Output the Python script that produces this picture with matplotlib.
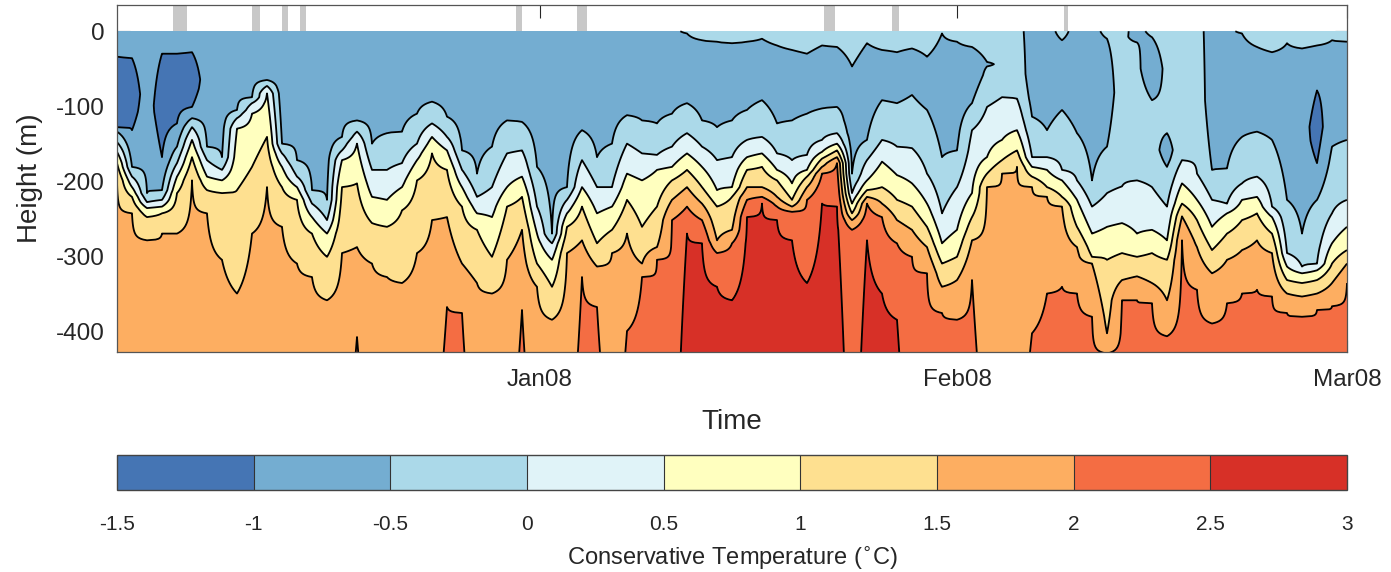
import numpy as np
import matplotlib
matplotlib.use("Agg")
import matplotlib.pyplot as plt

plt.rcParams['font.family'] = ['Liberation Sans', 'DejaVu Sans']
plt.rcParams['text.color'] = '#262626'
plt.rcParams['axes.labelcolor'] = '#262626'
plt.rcParams['xtick.color'] = '#262626'
plt.rcParams['ytick.color'] = '#262626'

nan = np.nan

# mooring profiles, days from 1 Jan 2008 (regular sampling)
t_days = np.linspace(-31.45, 60.0, 83)

# depth (m) of the top of the cold core (-1..-0.5), nan where there is no core
core_top = [0, 0, 0, 0, 0, 0, 0, 0, 0, 0, 0, 0, 0, 0, 0, 0, 0, 0, 0, 0,
            0, 0, 0, 0, 0, 0, 0, 0, 0, 0, 0, 0, 0, 0, 0, 0, 0, 0, 3, 12,
            14, 16, 14, 10, 19, 25, 30, 19, 21, 47, 16, 25, 28, 23, 34, 3, 14, 21, 41, nan,
            nan, 0, 0, 12, 0, 0, 10, nan, 0, 8, 136, nan, nan, 0, 0, 3, 21, 28, 16, 23,
            19, 12, 14]

# isotherm depths (m)
iso_m05 = [134, 181, 216, 212, 154, 116, 154, 168, 105, 88, 65, 150, 172, 212, 225, 141, 119, 150, 136, 134,
           110, 94, 114, 159, 190, 154, 119, 121, 181, 270, 208, 132, 168, 150, 112, 119, 123, 110, 96, 119,
           128, 119, 105, 92, 123, 119, 110, 103, 101, 190, 145, 92, 96, 85, 105, 168, 159, 96, 47, nan,
           nan, 114, 132, 105, 136, 199, 154, nan, 15, 92, 181, nan, nan, 185, 183, 141, 134, 145, 225, 270,
           225, 154, 145]
iso_0 = [148, 194, 228, 225, 176, 128, 172, 185, 116, 96, 73, 163, 194, 230, 252, 159, 134, 185, 185, 176,
         150, 123, 141, 185, 221, 208, 163, 159, 234, 283, 225, 172, 208, 208, 150, 163, 165, 154, 136, 154,
         172, 168, 145, 141, 163, 172, 165, 145, 136, 216, 172, 145, 154, 156, 190, 243, 208, 132, 101, 88,
         90, 168, 168, 185, 199, 234, 216, 207, 199, 208, 234, 172, 190, 225, 230, 203, 194, 234, 296, 314,
         310, 243, 225]
iso_05 = [161, 208, 236, 234, 194, 145, 194, 199, 130, 110, 83, 181, 208, 248, 270, 172, 150, 221, 225, 208,
          172, 141, 159, 208, 243, 248, 208, 194, 270, 305, 243, 208, 243, 234, 190, 199, 185, 181, 163, 181,
          212, 208, 168, 163, 185, 203, 185, 161, 150, 230, 199, 174, 192, 203, 230, 283, 265, 216, 168, 145,
          132, 181, 185, 199, 225, 270, 261, 256, 270, 265, 279, 203, 225, 261, 243, 225, 221, 248, 314, 323,
          319, 283, 261]
iso_1 = [176, 221, 248, 243, 216, 168, 212, 216, 212, 181, 141, 208, 225, 270, 301, 208, 203, 256, 261, 239,
         199, 163, 185, 234, 265, 301, 234, 221, 310, 341, 261, 234, 283, 265, 225, 261, 234, 199, 185, 208,
         234, 221, 185, 181, 199, 225, 194, 170, 159, 243, 212, 208, 225, 234, 261, 310, 301, 248, 190, 172,
         159, 194, 208, 221, 261, 301, 305, 296, 301, 296, 305, 230, 252, 292, 270, 252, 243, 270, 332, 336,
         332, 310, 292]
iso_15 = [199, 243, 279, 270, 270, 199, 243, 305, 350, 270, 208, 261, 310, 328, 359, 296, 288, 310, 328, 336,
          296, 252, 248, 310, 336, 350, 305, 265, 341, 385, 296, 279, 314, 296, 270, 310, 288, 225, 208, 230,
          279, 265, 208, 208, 221, 234, 208, 181, 168, 252, 221, 230, 252, 265, 288, 341, 332, 279, 208, 190,
          181, 208, 221, 234, 288, 310, 403, 332, 327, 336, 359, 247, 288, 323, 305, 292, 279, 296, 350, 354,
          350, 336, 310]
iso_2 = [nan, nan, nan, nan, nan, nan, nan, nan, nan, nan, nan, nan, nan, nan, nan, nan, 408, nan, nan, nan,
         nan, nan, 368, 376, nan, nan, nan, 372, nan, nan, nan, 328, 368, nan, 400, 328, 305, 252, 234, 252,
         296, 283, 225, 221, 234, 241, 225, 190, 176, 265, 230, 248, 283, 301, 323, 376, 385, 332, nan, nan,
         nan, 403, 350, 341, 350, 381, 430, 359, 359, 363, 407, 279, 345, 390, 363, 350, 345, 354, 376, 381,
         372, 367, 336]
iso_25 = [nan] * 38 + [270, 283, 341, 359, 248, 230, 252, 279, 336, 230, 234, nan, 279, 350, 385] + [nan] * 30

# depth range (m) of the coldest water (< -1)
pocket_top = [34, 36, nan, 30, 30, 28] + [nan] * 74 + [79, nan, nan]
pocket_bot = [128, 132, nan, 168, 123, 101] + [nan] * 74 + [176, nan, nan]

# gaps in the surface record (days from 1 Jan 2008)
gap_start = [-27.29, -21.41, -19.18, -17.84, -1.78, 2.75, 21.12, 26.17, 38.96]
gap_end = [-26.25, -20.82, -18.74, -17.40, -1.34, 3.49, 21.93, 26.69, 39.26]

levels = [-1.5, -1.0, -0.5, 0.0, 0.5, 1.0, 1.5, 2.0, 2.5, 3.0]
level_labels = ['-1.5', '-1', '-0.5', '0', '0.5', '1', '1.5', '2', '2.5', '3']
colors = ['#4575b4', '#74add1', '#abd9e9', '#e0f3f8', '#ffffbf',
          '#fee090', '#fdae61', '#f46d43', '#d73027']


def column(j):
    d, T = [0.0], []
    if np.isnan(iso_m05[j]):
        T.append(-0.3)
    else:
        top = core_top[j]
        if top > 0:
            T.append(-0.3)
            d.append(top); T.append(-0.5)
        else:
            T.append(-0.75)
        if np.isnan(pocket_top[j]):
            d.append((top + iso_m05[j]) / 2); T.append(-0.8)
        else:
            pt, pb = pocket_top[j], pocket_bot[j]
            d += [pt, (pt + pb) / 2, pb]; T += [-1.0, -1.25, -1.0]
        d.append(iso_m05[j]); T.append(-0.5)
    i2 = 600.0 if np.isnan(iso_2[j]) else iso_2[j]
    i25 = 800.0 if np.isnan(iso_25[j]) else iso_25[j]
    d += [iso_0[j], iso_05[j], iso_1[j], iso_15[j], i2, i25, i25 + 300]
    T += [0.0, 0.5, 1.0, 1.5, 2.0, 2.5, 2.95]
    d = np.array(d, dtype=float)
    for k in range(1, len(d)):
        d[k] = max(d[k], d[k - 1] + 0.5)
    return d, np.array(T)


depth = np.arange(0, 431, 1.0)
field = np.empty((depth.size, t_days.size))
for j in range(t_days.size):
    d, T = column(j)
    field[:, j] = np.interp(depth, d, T)

fig = plt.figure(figsize=(13.91, 5.72), dpi=100)
ax = fig.add_axes([117 / 1391, 220 / 572, 1230 / 1391, 347 / 572])
cax = fig.add_axes([117 / 1391, 82 / 572, 1230 / 1391, 35 / 572])

cf = ax.contourf(t_days, -depth, field, levels=levels, colors=colors)
ax.contour(t_days, -depth, field, levels=levels[1:-1], colors='k',
           linewidths=1.3, linestyles='solid')

ax.bar(gap_start, 40, width=np.array(gap_end) - np.array(gap_start), bottom=0,
       align='edge', color='#c8c8c8', zorder=1)

ax.set_xlim(-31.45, 60)
ax.set_ylim(-428, 35)
ax.set_axisbelow(True)
ax.set_xticks([0, 31, 60])
ax.set_xticklabels(['Jan08', 'Feb08', 'Mar08'])
ax.set_yticks([-400, -300, -200, -100, 0])
ax.set_yticklabels(['-400', '-300', '-200', '-100', '0'])
ax.tick_params(direction='in', length=9, width=0.8, top=True, right=True, labelsize=17.5)
ax.tick_params(axis='x', pad=12)
ax.tick_params(axis='y', pad=9)
for s in ax.spines.values():
    s.set_color('#555555')
    s.set_linewidth(0.9)

ax.set_xlabel('Time', fontsize=20)
ax.xaxis.set_label_coords(0.5, -0.165)
ax.xaxis.label.set_va('top')
ax.set_ylabel('Height (m)', fontsize=20)
ax.yaxis.set_label_coords(-0.060, 0.5)

cb = fig.colorbar(cf, cax=cax, orientation='horizontal', drawedges=True)
cb.set_ticks(levels)
cb.set_ticklabels(level_labels)
cb.ax.tick_params(length=0, pad=18, labelsize=15)
cb.outline.set_edgecolor('#444444')
cb.outline.set_linewidth(1.0)
cb.dividers.set_color('#333333')
cb.dividers.set_linewidth(0.8)
cb.set_label(r'Conservative Temperature ($^{\circ}$C)', fontsize=17, labelpad=8)

fig.savefig('out.png', dpi=100)
